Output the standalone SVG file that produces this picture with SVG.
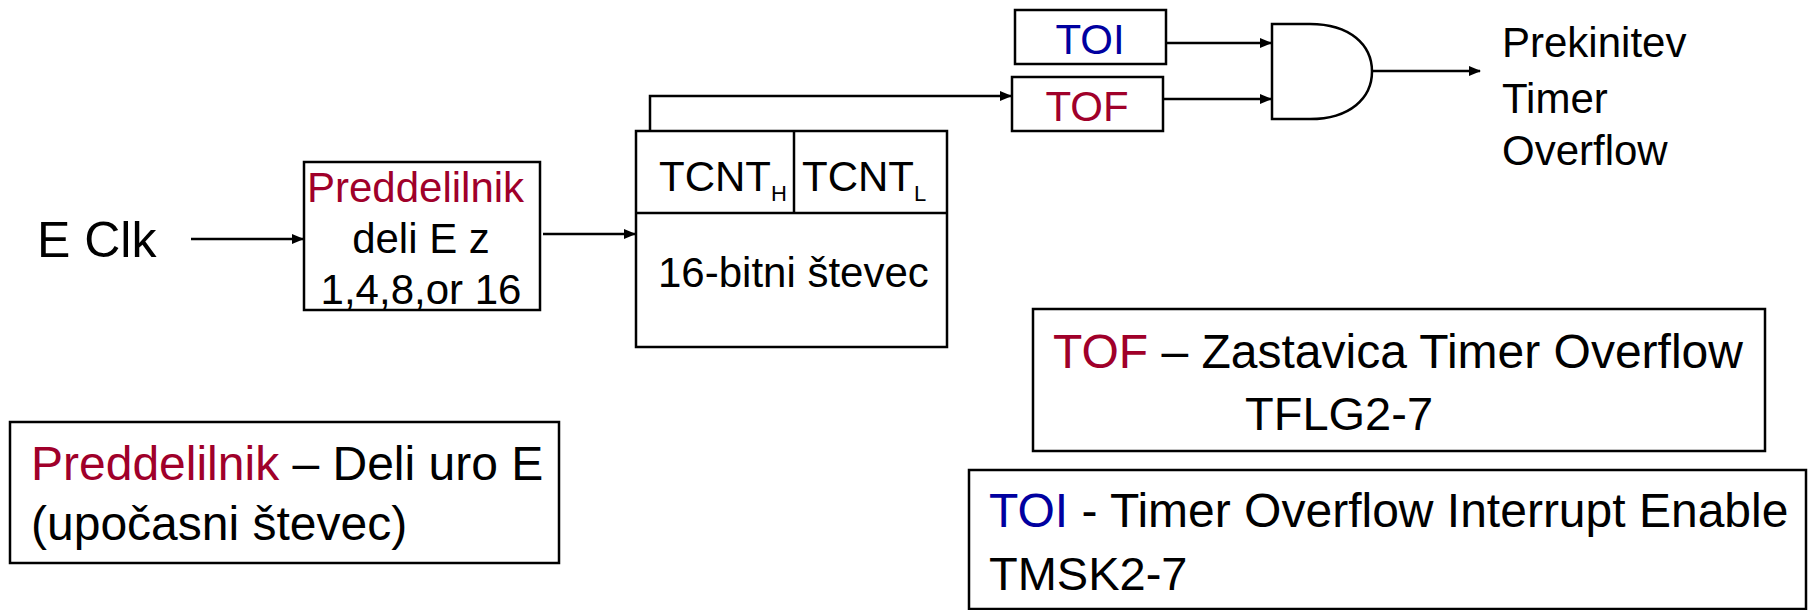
<svg xmlns="http://www.w3.org/2000/svg" width="1808" height="610" viewBox="0 0 1808 610">
<defs>
<marker id="arr" markerWidth="12" markerHeight="10" refX="11" refY="5" orient="auto" markerUnits="userSpaceOnUse">
<path d="M0,0 L12,5 L0,10 Z" fill="#000"/>
</marker>
<style>
text{font-family:"Liberation Sans",Arial,sans-serif;fill:#000}
.box{fill:#fff;stroke:#000;stroke-width:2.5}
.ln{fill:none;stroke:#000;stroke-width:2.5}
.red{fill:#a0002a}
.blue{fill:#0000a0}
.d{font-size:42px}
.i{font-size:47px}
</style>
</defs>
<rect width="1808" height="610" fill="#fff"/>
<g id="eclk"><text x="37" y="257" font-size="50">E Clk</text></g>
<g id="prescaler">
<rect class="box" x="304" y="162" width="236" height="148"/>
<text class="d red" x="307" y="202">Preddelilnik</text>
<text class="d" x="421" y="253" text-anchor="middle">deli E z</text>
<text class="d" x="421" y="304" text-anchor="middle">1,4,8,or 16</text>
</g>
<g id="counter">
<rect class="box" x="636" y="131" width="311" height="216"/>
<line class="ln" x1="636" y1="213" x2="947" y2="213"/>
<line class="ln" x1="794" y1="131" x2="794" y2="213"/>
<text class="d" x="659" y="191">TCNT<tspan font-size="22" dy="10">H</tspan></text>
<text class="d" x="802" y="191">TCNT<tspan font-size="22" dy="10">L</tspan></text>
<text class="d" x="658" y="287">16-bitni števec</text>
</g>
<g id="toi">
<rect class="box" x="1015" y="10" width="151" height="54"/>
<text class="d blue" x="1090" y="54" text-anchor="middle">TOI</text>
</g>
<g id="tof">
<rect class="box" x="1012" y="77" width="151" height="54"/>
<text class="d red" x="1087" y="121" text-anchor="middle">TOF</text>
</g>
<g id="and">
<path class="ln" d="M1272,24 H1310 C1350,24 1372,45 1372,71.5 C1372,98 1350,119 1310,119 H1272 Z"/>
</g>
<g id="out">
<text class="d" x="1502" y="57">Prekinitev</text>
<text class="d" x="1502" y="113">Timer</text>
<text class="d" x="1502" y="165">Overflow</text>
</g>
<g id="connectors">
<line class="ln" x1="191" y1="239" x2="303" y2="239" marker-end="url(#arr)"/>
<line class="ln" x1="543" y1="234" x2="635" y2="234" marker-end="url(#arr)"/>
<polyline class="ln" points="650,131 650,96 1011,96" marker-end="url(#arr)"/>
<line class="ln" x1="1166" y1="43" x2="1271" y2="43" marker-end="url(#arr)"/>
<line class="ln" x1="1163" y1="99" x2="1271" y2="99" marker-end="url(#arr)"/>
<line class="ln" x1="1373" y1="71" x2="1480" y2="71" marker-end="url(#arr)"/>
</g>
<g id="note-prescaler">
<rect class="box" x="10" y="422" width="549" height="141"/>
<text font-size="48" x="31" y="480"><tspan class="red">Preddelilnik</tspan> – Deli uro E</text>
<text font-size="48" x="31" y="540">(upočasni števec)</text>
</g>
<g id="note-tof">
<rect class="box" x="1033" y="309" width="732" height="142"/>
<text font-size="48" x="1053" y="368"><tspan class="red">TOF</tspan> – Zastavica Timer Overflow</text>
<text class="i" x="1245" y="430">TFLG2-7</text>
</g>
<g id="note-toi">
<rect class="box" x="969" y="470" width="837" height="139"/>
<text font-size="48" x="989" y="527"><tspan class="blue">TOI</tspan> - Timer Overflow Interrupt Enable</text>
<text class="i" x="989" y="590">TMSK2-7</text>
</g>
</svg>
